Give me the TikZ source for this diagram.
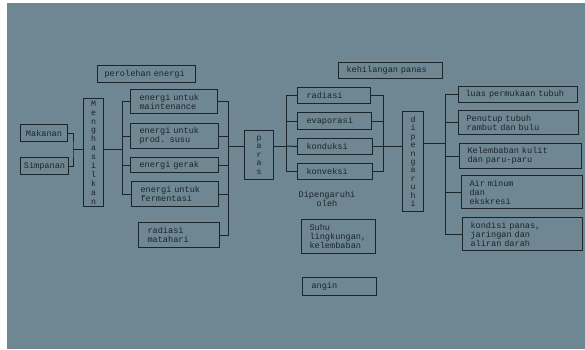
\documentclass[tikz,border=0pt]{standalone}
\usepackage{fontspec}
\newfontfamily\dm{Liberation Mono}
\newcommand\boxfont{\dm\fontsize{8.6}{9}\selectfont\hyphenpenalty 10000 \exhyphenpenalty 10000 }
\definecolor{bg}{HTML}{6F8792}
\definecolor{ink}{HTML}{1A252A}
\tikzset{
  box/.style={draw=ink, line width=1pt, anchor=north west, inner xsep=8pt, inner ysep=0pt,
    align=left, text=ink, font=\boxfont},
  vbox/.style={draw=ink, line width=1pt, anchor=north west, inner sep=0pt,
    align=center, text=ink},
  wire/.style={draw=ink, line width=1pt},
  lbl/.style={text=ink, align=center, font=\boxfont}
}
\begin{document}
\begin{tikzpicture}[x=1pt,y=-1pt]
\useasboundingbox (0,0) rectangle (585,349);
\fill[bg] (0,0) rectangle (585,349);
\fill[white] (0,0) rectangle (7,349);
\fill[white] (0,0) rectangle (585,3);

% left
\node[box, align=center, inner xsep=0pt, minimum width=47pt, minimum height=17pt] (mak) at (20,124) {Makanan};
\node[box, align=center, inner xsep=0pt, minimum width=48pt, minimum height=17pt] (simp) at (20,157) {Simpanan};
\node[vbox, minimum width=20pt, minimum height=108pt, font=\dm\fontsize{8.2}{8.9}\selectfont] (meng) at (83,98) {M\\e\\n\\g\\h\\a\\s\\i\\l\\k\\a\\n};
\node[box, inner xsep=7pt, minimum width=98pt, minimum height=17pt, text width=84pt] (pero) at (97,65) {perolehan energi};

\node[box, inner xsep=9pt, minimum width=87pt, minimum height=24pt, text width=69pt] (e1) at (130,89) {energi untuk\\maintenance};
\node[box, inner xsep=9pt, minimum width=88pt, minimum height=25pt, text width=70pt] (e2) at (130,123) {energi untuk\\prod. susu};
\node[box, inner xsep=9pt, minimum width=88pt, minimum height=15pt, text width=70pt] (e3) at (130,157) {energi gerak};
\node[box, inner xsep=9pt, minimum width=87pt, minimum height=25pt, text width=69pt] (e4) at (131,181) {energi untuk\\fermentasi};
\node[box, inner xsep=9pt, minimum width=81pt, minimum height=25pt, text width=63pt] (rad) at (138,222) {radiasi\\matahari};

\node[vbox, minimum width=29pt, minimum height=49pt, font=\dm\fontsize{8.2}{8.5}\selectfont] (paras) at (244,130) {p\\a\\r\\a\\s};

% middle
\node[box, inner xsep=9pt, minimum width=73pt, minimum height=16pt, text width=55pt] (r1) at (297,87) {radiasi};
\node[box, inner xsep=9pt, minimum width=74pt, minimum height=17pt, text width=56pt] (r2) at (297,112) {evaporasi};
\node[box, inner xsep=9pt, minimum width=75pt, minimum height=16pt, text width=57pt] (r3) at (297,138) {konduksi};
\node[box, inner xsep=9pt, minimum width=75pt, minimum height=16pt, text width=57pt] (r4) at (297,163) {konveksi};
\node[box, inner xsep=8pt, minimum width=104pt, minimum height=16pt, text width=88pt] (kehil) at (338,62) {kehilangan panas};
\node[lbl] (dipo) at (327,199) {Dipengaruhi\\oleh};
\node[box, inner xsep=8pt, minimum width=74pt, minimum height=34pt, text width=58pt] (suhu) at (301,219) {Suhu\\lingkungan,\\kelembaban};
\node[box, inner xsep=9pt, minimum width=74pt, minimum height=18pt, text width=56pt] (angin) at (302,277) {angin};

\node[vbox, minimum width=21pt, minimum height=100pt, font=\dm\fontsize{8.2}{8.4}\selectfont] (dip) at (402,111) {d\\i\\p\\e\\n\\g\\a\\r\\u\\h\\i};

% right
\node[box, inner xsep=7pt, minimum width=119pt, minimum height=16pt, text width=105pt] (f1) at (458,86) {luas permukaan tubuh};
\node[box, inner xsep=8pt, minimum width=120pt, minimum height=24pt, text width=104pt] (f2) at (458,110) {Penutup tubuh\\rambut dan bulu};
\node[box, inner xsep=8pt, minimum width=122pt, minimum height=25pt, text width=106pt] (f3) at (459,143) {Kelembaban kulit\\dan paru-paru};
\node[box, inner xsep=8pt, minimum width=121pt, minimum height=33pt, text width=105pt] (f4) at (461,175) {Air minum\\dan\\ekskresi};
\node[box, inner xsep=8pt, minimum width=120pt, minimum height=33pt, text width=104pt] (f5) at (462,217) {kondisi panas,\\jaringan dan\\aliran darah};

% junctions
\coordinate (j1) at (73,149);
\coordinate (b1) at (122,149);
\coordinate (b2) at (228,146);
\coordinate (b3) at (286,146);
\coordinate (b4) at (383,146);
\coordinate (b5) at (445,143);

% connectors left
\draw[wire] (mak.east) -| (j1) |- (simp.east);
\draw[wire] (j1) -- (meng.west |- j1);
\draw[wire] (meng.east |- b1) -- (b1);
\draw[wire] (e1.west) -- (e1.west -| b1) -- (e4.west -| b1) -- (e4.west);
\draw[wire] (e2.west) -- (e2.west -| b1);
\draw[wire] (e3.west) -- (e3.west -| b1);
\draw[wire] (e1.east) -- (e1.east -| b2) -- (rad.east -| b2) -- (rad.east);
\draw[wire] (e2.east) -- (e2.east -| b2);
\draw[wire] (e3.east) -- (e3.east -| b2);
\draw[wire] (e4.east) -- (e4.east -| b2);
\draw[wire] (b2) -- (paras.west |- b2);

% connectors middle
\draw[wire] (paras.east |- b3) -- (b3);
\draw[wire] (r1.west) -- (r1.west -| b3) -- (r4.west -| b3) -- (r4.west);
\draw[wire] (r2.west) -- (r2.west -| b3);
\draw[wire] (b3) -- (r3.west);
\draw[wire] (r1.east) -- (r1.east -| b4) -- (r4.east -| b4) -- (r4.east);
\draw[wire] (r2.east) -- (r2.east -| b4);
\draw[wire] (r3.east) -- (dip.west |- r3.east);

% connectors right
\draw[wire] (dip.east |- b5) -- (b5);
\draw[wire] (f1.west) -- (f1.west -| b5) -- (f5.west -| b5) -- (f5.west);
\draw[wire] (f2.west) -- (f2.west -| b5);
\draw[wire] (f3.west) -- (f3.west -| b5);
\draw[wire] (f4.west) -- (f4.west -| b5);
\end{tikzpicture}
\end{document}
